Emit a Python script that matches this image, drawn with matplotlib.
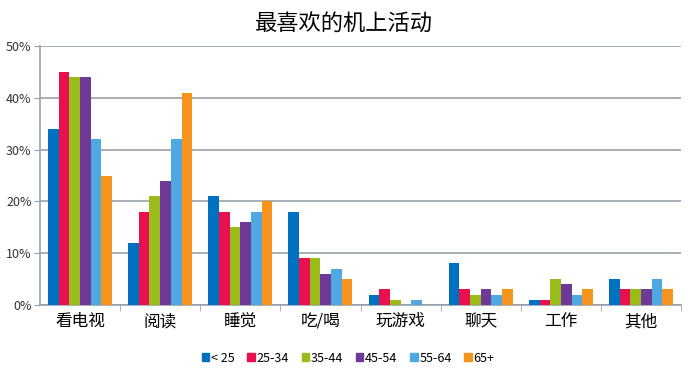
import numpy as np
import matplotlib
matplotlib.use("Agg")
import matplotlib.pyplot as plt
from matplotlib.patches import Patch

plt.rcParams['font.family'] = ['Noto Sans CJK SC', 'DejaVu Sans']

categories = ["看电视", "阅读", "睡觉", "吃/喝", "玩游戏", "聊天", "工作", "其他"]
groups = ["< 25", "25-34", "35-44", "45-54", "55-64", "65+"]
under25 = [34, 12, 21, 18, 2, 8, 1, 5]
age25_34 = [45, 18, 18, 9, 3, 3, 1, 3]
age35_44 = [44, 21, 15, 9, 1, 2, 5, 3]
age45_54 = [44, 24, 16, 6, 0, 3, 4, 3]
age55_64 = [32, 32, 18, 7, 1, 2, 2, 5]
age65plus = [25, 41, 20, 5, 0, 3, 3, 3]
series = [under25, age25_34, age35_44, age45_54, age55_64, age65plus]
colors = ["#0070c0", "#e8104e", "#9bbb1a", "#6f3a96", "#4fa8e0", "#f7941d"]

fig = plt.figure(figsize=(6.88, 3.75), dpi=100)
ax = fig.add_axes([0.058, 0.187, 0.932, 0.69])

x = np.arange(len(categories))
w = 0.8 / len(series)
for i, vals in enumerate(series):
    ax.bar(x - 0.4 + w * (i + 0.5), vals, width=w, color=colors[i], zorder=3)

ax.set_xlim(-0.5, len(categories) - 0.5)
ax.set_ylim(0, 50)
ax.set_yticks(range(0, 51, 10))
ax.set_yticklabels([f"{v}%" for v in range(0, 51, 10)], fontsize=9, color="#333333")
ax.yaxis.grid(True, color="#99a1aa", linewidth=1.2, zorder=0)

ax.set_xticks(x)
ax.set_xticklabels(categories, fontsize=12)
ax.set_xticks(np.arange(0.5, len(categories), 1), minor=True)
ax.tick_params(axis="x", which="major", length=0, pad=6)
ax.tick_params(axis="x", which="minor", length=4, color="#99a1aa")
ax.tick_params(axis="y", length=4, color="#99a1aa", pad=2)

for s in ["top", "right"]:
    ax.spines[s].set_visible(False)
ax.spines["left"].set_color("#99a1aa")
ax.spines["bottom"].set_color("#99a1aa")
ax.spines["left"].set_linewidth(1.2)
ax.spines["bottom"].set_linewidth(1.2)

fig.suptitle("最喜欢的机上活动", fontsize=16, y=0.965)

handles = [Patch(color=c, label=g) for c, g in zip(colors, groups)]
fig.legend(handles=handles, loc="center", bbox_to_anchor=(0.506, 0.045), ncol=6,
           frameon=False, fontsize=9, handlelength=0.6, handleheight=0.6,
           handletextpad=0.15, columnspacing=1.0)

fig.savefig("out.png", dpi=100)
